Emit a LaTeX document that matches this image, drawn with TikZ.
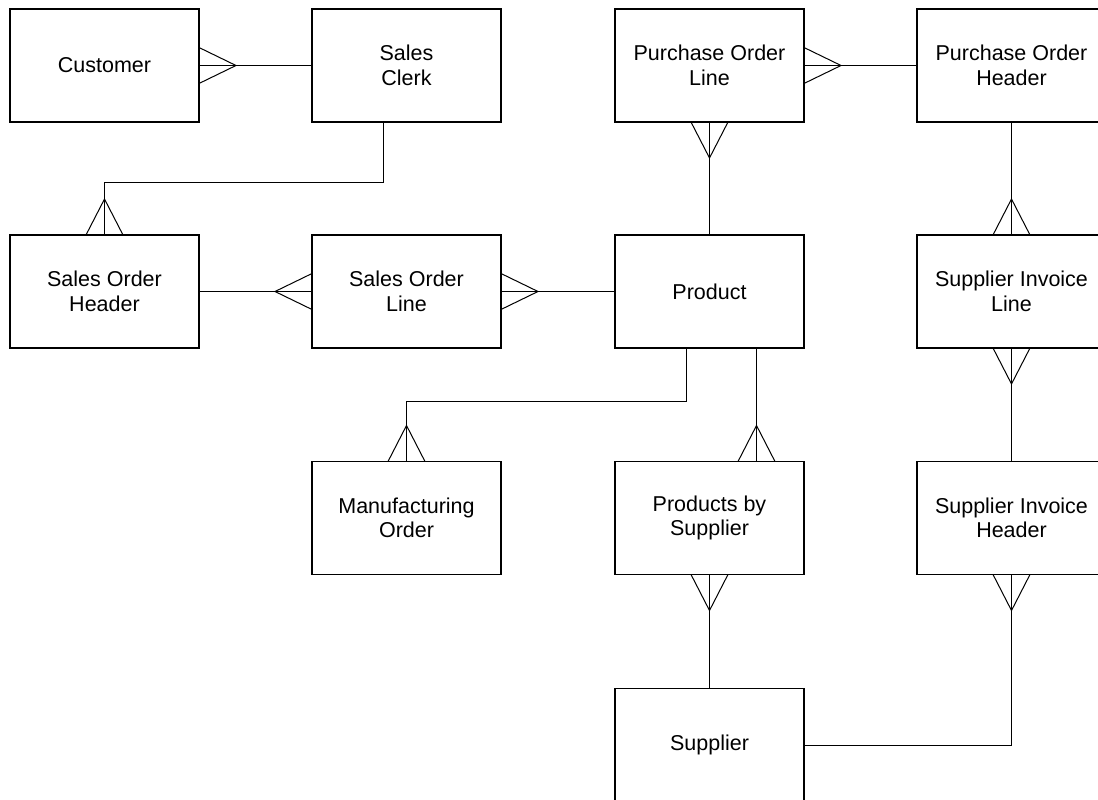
\documentclass[tikz,border=0pt]{standalone}
\usepackage{fontspec}
\setmainfont{Liberation Sans}
\usetikzlibrary{calc}

% crow's foot: anchor point, apex offset, half-spread offset
\newcommand{\crowfoot}[3]{%
  \draw[link] ($(#1)+(#3)$) -- ($(#1)+(#2)$) -- ($(#1)-(#3)$);}

\begin{document}
\begin{tikzpicture}[x=1pt,y=-1pt,
  entity/.style={draw, line width=1.1pt, minimum width=189pt, minimum height=113pt,
    outer sep=0pt, align=center, inner sep=0pt,
    font=\fontsize{21.5}{24.5}\selectfont},
  link/.style={line width=1pt}]
\useasboundingbox (0,0) rectangle (1098,800);

% entities
\node[entity] (cust)  at (104.5, 65.5) {Customer};
\node[entity] (clerk) at (406.5, 65.5) {Sales\\Clerk};
\node[entity] (pol)   at (709.5, 65.5) {Purchase Order\\Line};
\node[entity] (poh)   at (1011.5,65.5) {Purchase Order\\Header};
\node[entity] (soh)   at (104.5,291.5) {Sales Order\\Header};
\node[entity] (sol)   at (406.5,291.5) {Sales Order\\Line};
\node[entity] (prod)  at (709.5,291.5) {Product};
\node[entity] (sil)   at (1011.5,291.5) {Supplier Invoice\\Line};
\node[entity] (mo)    at (406.5,518) {Manufacturing\\Order};
\node[entity] (pbs)   at (709.5,518) {Products by\\Supplier};
\node[entity] (sih)   at (1011.5,518) {Supplier Invoice\\Header};
\node[entity] (sup)   at (709.5,745) {Supplier};

% off-centre attachment points
\coordinate (clerkB) at ($(clerk.south)+(-23.5,0)$);
\coordinate (prodBL) at ($(prod.south)+(-23.5,0)$);
\coordinate (prodBR) at ($(prod.south)+(47,0)$);

% relationships
\draw[link] (cust.east) -- (clerk.west);
\crowfoot{cust.east}{37,0}{0,18}

\draw[link] (clerkB) -- ++(0,60) -| (soh.north);
\crowfoot{soh.north}{0,-36}{18.5,0}

\draw[link] (soh.east) -- (sol.west);
\crowfoot{sol.west}{-37,0}{0,18}

\draw[link] (sol.east) -- (prod.west);
\crowfoot{sol.east}{37,0}{0,18}

\draw[link] (pol.south) -- (prod.north);
\crowfoot{pol.south}{0,36}{18.5,0}

\draw[link] (pol.east) -- (poh.west);
\crowfoot{pol.east}{37,0}{0,18}

\draw[link] (poh.south) -- (sil.north);
\crowfoot{sil.north}{0,-36}{18.5,0}

\draw[link] (sil.south) -- (sih.north);
\crowfoot{sil.south}{0,36}{18.5,0}

\draw[link] (prodBL) -- ++(0,53) -| (mo.north);
\crowfoot{mo.north}{0,-36}{18.5,0}

\draw[link] (prodBR) -- (prodBR |- pbs.north);
\crowfoot{prodBR |- pbs.north}{0,-36}{18.5,0}

\draw[link] (pbs.south) -- (sup.north);
\crowfoot{pbs.south}{0,36}{18.5,0}

\draw[link] (sih.south) |- (sup.east);
\crowfoot{sih.south}{0,36}{18.5,0}
\end{tikzpicture}
\end{document}
